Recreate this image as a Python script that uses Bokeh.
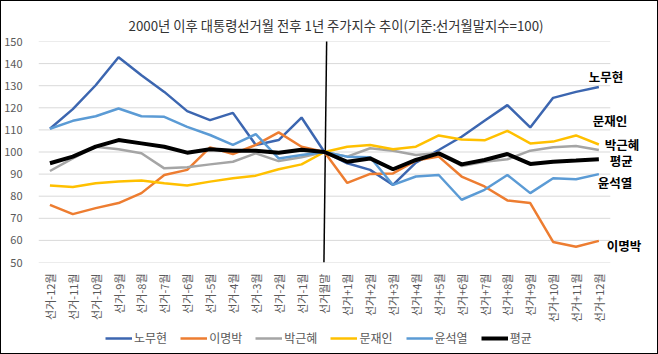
from bokeh.plotting import figure
from bokeh.layouts import column
from bokeh.models import Legend, LegendItem, FixedTicker, ColumnDataSource, Range1d
from bokeh.embed import file_html
from bokeh.resources import INLINE
from bokeh.core.properties import value

categories = ["선거-12월", "선거-11월", "선거-10월", "선거-9월", "선거-8월", "선거-7월",
              "선거-6월", "선거-5월", "선거-4월", "선거-3월", "선거-2월", "선거-1월",
              "선거월말",
              "선거+1월", "선거+2월", "선거+3월", "선거+4월", "선거+5월", "선거+6월",
              "선거+7월", "선거+8월", "선거+9월", "선거+10월", "선거+11월", "선거+12월"]

roh = [110.5, 119.4, 130.2, 142.9, 134.7, 127.2, 118.5, 114.4, 117.7, 103.2, 105.4, 115.6, 100,
       94.9, 91.9, 85.1, 95.2, 100.9, 106.9, 114.1, 121.2, 111.1, 124.5, 127.2, 129.4]
lee = [76.1, 71.9, 74.6, 76.9, 81.4, 89.6, 91.9, 102.1, 99.1, 103.2, 108.9, 102.4, 100,
       86.0, 90.1, 90.3, 96.1, 97.9, 88.9, 84.4, 78.1, 76.9, 59.3, 57.1, 59.8]
park = [91.4, 97.1, 102.4, 101.2, 99.4, 92.6, 93.1, 94.4, 95.6, 99.4, 95.9, 97.6, 100,
        97.9, 101.7, 100.6, 98.6, 99.6, 93.7, 95.6, 96.7, 100.6, 102.1, 102.7, 100.9]
moon = [84.8, 84.2, 85.9, 86.6, 87.1, 85.9, 84.8, 86.6, 88.1, 89.3, 92.2, 94.4, 100,
        102.4, 103.2, 101.2, 102.4, 107.5, 105.7, 105.3, 109.6, 103.9, 104.7, 107.5, 103.4]
yoon = [110.5, 114.1, 116.2, 119.7, 116.2, 115.9, 111.4, 107.7, 103.2, 108.1, 97.1, 98.6, 100,
        97.9, 97.6, 85.1, 88.9, 89.6, 78.4, 82.9, 89.6, 81.4, 88.1, 87.7, 90.0]
avg = [94.9, 97.9, 102.4, 105.4, 103.9, 102.4, 99.7, 101.2, 100.6, 100.6, 99.7, 101.0, 100,
       95.6, 97.1, 92.2, 96.4, 99.4, 94.4, 96.4, 99.1, 94.6, 95.6, 96.1, 96.7]

names = ["노무현", "이명박", "박근혜", "문재인", "윤석열", "평균"]
series = [roh, lee, park, moon, yoon, avg]
colors = ["#3C66B0", "#ED7D31", "#A5A5A5", "#FFC000", "#5B9BD5", "#000000"]
widths = [2.5, 2.5, 2.5, 2.5, 2.5, 4]

y_ticks = [50, 60, 70, 80, 90, 100, 110, 120, 130, 140, 150]

end_labels = ["노무현", "문재인", "박근혜", "평균", "윤석열", "이명박"]
end_label_y = [134.2, 114.4, 103.2, 96.0, 86.0, 57.7]
end_label_dx = [-10, -6, 6, 11, -1, 8]

title_text = "2000년 이후 대통령선거월 전후 1년 주가지수 추이(기준:선거월말지수=100)"

FONT = "Noto Sans CJK KR"

x_idx = list(range(len(categories)))
x_lo = x_idx[0] - 0.5
x_hi = x_idx[-1] + 0.5
mid_idx = categories.index("선거월말")

p = figure(width=656, height=324, x_range=Range1d(x_lo, x_hi + 2.02), y_range=Range1d(50, 150),
           output_backend="svg", toolbar_location=None,
           min_border_left=37, min_border_right=1, min_border_top=40, min_border_bottom=62)
p.outline_line_color = None
p.background_fill_color = "white"
p.border_fill_color = "white"

p.title.text = title_text
p.title.align = "left"
p.title.offset = 90
p.title.text_font = FONT
p.title.text_font_size = "13.3px"
p.title.text_font_style = "normal"
p.title.text_color = "#333333"
p.title.standoff = 13

p.yaxis.ticker = FixedTicker(ticks=y_ticks)
p.yaxis.axis_line_color = None
p.yaxis.major_tick_line_color = None
p.yaxis.minor_tick_line_color = None
p.yaxis.major_label_text_font = FONT
p.yaxis.major_label_text_font_size = "11px"
p.yaxis.major_label_text_color = "#595959"
p.yaxis.major_label_standoff = 10

p.xaxis.ticker = FixedTicker(ticks=x_idx)
p.xaxis.major_label_overrides = {i: c for i, c in zip(x_idx, categories)}
p.xaxis.axis_line_color = None
p.xaxis.major_tick_line_color = None
p.xaxis.minor_tick_line_color = None
p.xaxis.major_label_orientation = 1.5708
p.xaxis.major_label_text_font = FONT
p.xaxis.major_label_text_font_size = "11px"
p.xaxis.major_label_text_color = "#595959"
p.xaxis.major_label_standoff = 5

p.xgrid.grid_line_color = None
p.ygrid.grid_line_color = None

# horizontal gridlines, limited to the category span
p.segment(x0=[x_lo] * len(y_ticks), x1=[x_hi] * len(y_ticks), y0=y_ticks, y1=y_ticks,
          line_color="#D9D9D9", line_width=1)

# divider at election month
p.segment(x0=[mid_idx - 0.02], y0=[50], x1=[mid_idx + 0.1], y1=[151.5],
          line_color="black", line_width=1.5)

for ys, c, w in zip(series, colors, widths):
    src = ColumnDataSource(dict(x=x_idx, y=ys))
    p.line("x", "y", source=src, line_color=c, line_width=w)

lab_src = ColumnDataSource(dict(x=[x_idx[-1]] * len(end_labels), y=end_label_y,
                                text=end_labels, dx=end_label_dx))
p.text(x="x", y="y", text="text", x_offset="dx", source=lab_src, text_align="left",
       text_baseline="middle", text_font=value(FONT), text_font_size="12.5px",
       text_font_style="bold", text_color="black")

# legend strip (separate small figure below the chart)
pl = figure(width=656, height=28, x_range=Range1d(0, 1), y_range=Range1d(0, 1),
            output_backend="svg", toolbar_location=None,
            x_axis_location=None, y_axis_location=None,
            min_border=0, min_border_left=0, min_border_right=0, min_border_top=0, min_border_bottom=0)
pl.outline_line_color = None
pl.xgrid.grid_line_color = None
pl.ygrid.grid_line_color = None
pl.background_fill_color = "white"
pl.border_fill_color = "white"

items = []
for name, c, w in zip(names, colors, widths):
    r = pl.line(x=[-1, -1], y=[-1, -1], line_color=c, line_width=w)
    items.append(LegendItem(label=name, renderers=[r]))

legend = Legend(items=items, orientation="horizontal", location=(67, 7),
                label_text_font=FONT, label_text_font_size="12px", label_text_color="#595959",
                glyph_width=27, glyph_height=16, label_height=16, label_standoff=2,
                spacing=13, padding=0, margin=0, border_line_color=None,
                background_fill_alpha=0)
pl.add_layout(legend, "center")

layout = column(p, pl, spacing=0, styles={"border": "1px solid black"})

open("out.html", "w").write(file_html(layout, INLINE))
